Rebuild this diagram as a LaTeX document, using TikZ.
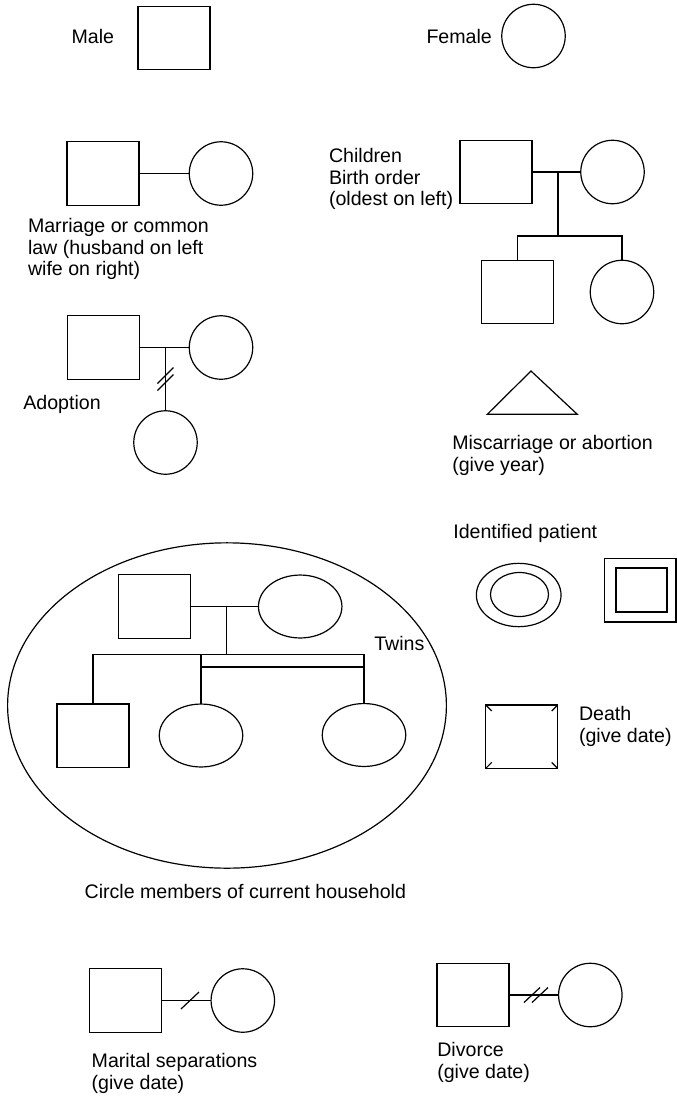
\documentclass[tikz,border=0pt]{standalone}
\usepackage{fontspec}
\setmainfont{Liberation Sans}
\usetikzlibrary{shapes.geometric}
\begin{document}
\begin{tikzpicture}[x=0.75pt,y=-0.75pt,
  every node/.style={inner sep=0pt, outer sep=0pt},
  line width=0.9pt,
  male/.style={draw, rectangle, minimum width=54pt, minimum height=47.6pt},
  female/.style={draw, circle, minimum size=47.6pt},
  femaleoval/.style={draw, ellipse, minimum width=62.6pt, minimum height=47.2pt},
  % multi-line labels are placed by the baseline of their last line
  txt/.style={anchor=base west, align=left, font=\fontsize{14.7}{16.3}\selectfont},
]
\fill[white] (0,0) rectangle (677,1104);
\useasboundingbox (0,0) rectangle (677,1104);

% Male / Female
\node[txt] (tmale) at (71.6,43.7) {Male};
\node[male] (male) at (174,38) {};
\node[txt] (tfemale) at (426.5,43) {Female};
\node[female] (female) at (533.5,36) {};

% Marriage
\node[male] (mh) at (103,173.5) {};
\node[female] (mw) at (221,173.5) {};
\draw (mh.east) -- (mw.west);
\node[txt] (tmarriage) at (28,275.9) {Marriage or common\\law (husband on left\\wife on right)};

% Children, birth order
\node[txt] (tchildren) at (329,205.9) {Children\\Birth order\\(oldest on left)};
\node[male] (cf) at (496,172) {};
\node[female] (cm) at (612.5,172) {};
\draw (cf.east) -- (cm.west);
\coordinate (cdrop) at (558,172);
\coordinate (cjoin) at (558,236);
\node[male] (cson) at (517.5,292) {};
\node[female] (cdau) at (622,292) {};
\draw (cdrop) -- (cjoin);
\draw (cson.north) |- (cjoin) -| (cdau.north);

% Adoption
\node[male] (ah) at (103.7,347.5) {};
\node[female] (aw) at (221,347.5) {};
\draw (ah.east) -- (aw.west);
\coordinate (adrop) at (165.5,347.5);
\node[female] (achild) at (165.5,442.5) {};
\draw (adrop) -- (achild.north);
\coordinate (amark) at (165.5,379);
\draw ([shift={(-8,4.5)}]amark) -- ([shift={(8,-11.5)}]amark);
\draw ([shift={(-8,11.5)}]amark) -- ([shift={(8,-4.5)}]amark);
\node[txt] (tadoption) at (23.3,409.3) {Adoption};

% Miscarriage
\coordinate (tri) at (531,371);
\draw[line join=miter] (tri) -- (577.3,414.3) -- (487.3,414.3) -- cycle;
\node[txt] (tmisc) at (452.3,471.4) {Miscarriage or abortion\\(give year)};

% Identified patient
\node[txt] (tpatient) at (453.3,538) {Identified patient};
\node[draw, ellipse, minimum width=63.5pt, minimum height=47.5pt] (ipo) at (518.7,595) {};
\node[draw, ellipse, minimum width=43.5pt, minimum height=33pt] (ipi) at (519.5,594.5) {};
\node[draw, rectangle, minimum width=53.8pt, minimum height=47.8pt] (ipso) at (640.2,590.2) {};
\node[draw, rectangle, minimum width=38.3pt, minimum height=33pt] (ipsi) at (641.5,590) {};

% Current household
\node[draw, ellipse, minimum width=329.1pt, minimum height=244pt] (household) at (227,705.5) {};
\node[male] (hf) at (154.7,606.5) {};
\node[femaleoval] (hm) at (300.2,606.5) {};
\draw (hf.east) -- (hm.west);
\coordinate (hdrop) at (226.7,606.5);
\coordinate (hjoin) at (226.7,654.3);
\node[male] (hson) at (93,735.8) {};
\node[femaleoval] (htwa) at (201,735.5) {};
\node[femaleoval] (htwb) at (364,735) {};
\coordinate (htbar) at (364,667);
\draw (hdrop) -- (hjoin);
\draw (hson.north) |- (hjoin) -| (htwb.north);
\draw (htwa.north) -- (htwa.north |- hjoin);
\draw (htwa.north |- htbar) -- (htbar);
\node[txt] (ttwins) at (374.3,650.3) {Twins};
\node[txt] (thousehold) at (84.6,898.7) {Circle members of current household};

% Death
\node[male] (death) at (521.7,736.7) {};
\draw (death.north west) -- ++(6,6);
\draw (death.north east) -- ++(-6,6);
\draw (death.south west) -- ++(6,-6);
\draw (death.south east) -- ++(-6,-6);
\node[txt] (tdeath) at (579,742.7) {Death\\(give date)};

% Marital separation
\node[male] (sh) at (125.8,1000.5) {};
\node[female] (sw) at (242.8,1000.5) {};
\draw (sh.east) -- (sw.west);
\coordinate (smark) at (190,1000.5);
\draw ([shift={(-9,8.5)}]smark) -- ([shift={(9,-8.5)}]smark);
\node[txt] (tsep) at (91.7,1089.2) {Marital separations\\(give date)};

% Divorce
\node[male] (dh) at (473,995) {};
\node[female] (dw) at (590.3,995) {};
\draw (dh.east) -- (dw.west);
\coordinate (dmark) at (536,995);
\draw ([shift={(-12,7.5)}]dmark) -- ([shift={(4,-7.5)}]dmark);
\draw ([shift={(-4,7.5)}]dmark) -- ([shift={(12,-7.5)}]dmark);
\node[txt] (tdivorce) at (437.3,1078.2) {Divorce\\(give date)};
\end{tikzpicture}
\end{document}
